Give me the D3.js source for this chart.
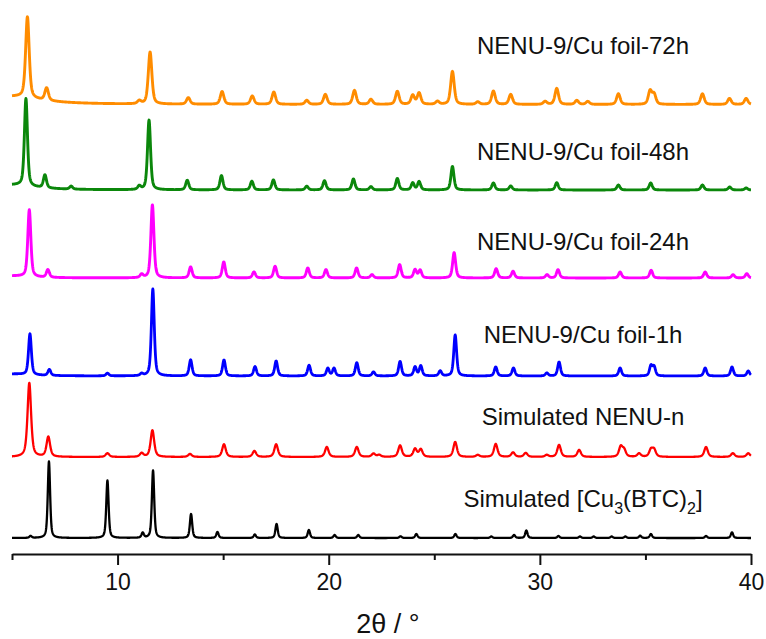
<!DOCTYPE html>
<html>
<head>
<meta charset="utf-8">
<script src="https://cdn.jsdelivr.net/npm/d3@7"></script>
<style>
  html, body { margin: 0; padding: 0; background: #ffffff; }
  svg { display: block; }
  text { font-family: "Liberation Sans", Arial, sans-serif; fill: #111; }
</style>
</head>
<body>
<svg id="chart" width="766" height="639"></svg>
<script>
// ---- data -------------------------------------------------------------
// 2θ range and axis ticks (degrees)
const twoThetaRange = [5, 40];
const majorTicks = [10, 20, 30, 40];
const minorTicks = [5, 15, 25, 35];

// sample names, stacked top to bottom
const sampleNames = [
  "NENU-9/Cu foil-72h",
  "NENU-9/Cu foil-48h",
  "NENU-9/Cu foil-24h",
  "NENU-9/Cu foil-1h",
  "Simulated NENU-n",
  "Simulated [Cu3(BTC)2]"
];

// vertical stacking offset of each pattern (a.u.)
const stackOffsets = [449.5, 364, 276, 178, 97, 16];

// reflection lists: [2θ (deg), intensity (a.u.), optional FWHM (deg)]
const peaks72h = [
  [5.0, 8, 3.2],
  [5.73, 81], [6.64, 12.5], [11.03, 3], [11.54, 52], [13.35, 6.5],
  [14.95, 12.7], [16.38, 8.3], [17.4, 12.3], [18.96, 4], [19.84, 10],
  [21.22, 14], [22.0, 5], [23.25, 13], [23.98, 9], [24.28, 11.3],
  [25.15, 3], [25.86, 33], [27.06, 2.5], [27.8, 13.3], [28.62, 10],
  [30.25, 3], [30.8, 16], [31.75, 4], [32.27, 3], [33.72, 10.7],
  [35.22, 13.3], [35.41, 10], [37.7, 10.7], [38.98, 6], [39.77, 6]
];
const peaks48h = [
  [5.0, 5, 2.5],
  [5.66, 87.5], [6.56, 13], [7.8, 3], [11.03, 3.5], [11.49, 69.7],
  [13.3, 9.6], [14.92, 14.3], [16.36, 8.7], [17.38, 10], [18.96, 3.7],
  [19.8, 9.3], [21.17, 11], [22.0, 3.3], [23.25, 11.5], [23.98, 7],
  [24.28, 8.3], [25.86, 23.5], [27.8, 7], [28.62, 4], [30.8, 7.3],
  [33.72, 5], [35.25, 7], [37.7, 5], [38.99, 3], [39.77, 2]
];
const peaks24h = [
  [5.0, 2, 2.0],
  [5.82, 67], [6.70, 7.7], [11.14, 3.3], [11.65, 73], [13.46, 11],
  [15.03, 16], [16.46, 6], [17.46, 11.7], [19.01, 10], [19.87, 8.3],
  [21.32, 10], [22.05, 3.3], [23.36, 13.3], [24.09, 8.3], [24.33, 7.7],
  [25.94, 25.3], [27.93, 9.3], [28.73, 6.7], [30.34, 3.3], [30.86, 8.3],
  [33.8, 6], [35.27, 7.7], [37.83, 6], [39.15, 3.3], [39.8, 4.3]
];
const peaks1h = [
  [5.0, 2, 2.0],
  [5.85, 41], [6.77, 6], [9.52, 2.7], [11.14, 2], [11.67, 87],
  [13.46, 16], [15.04, 16], [16.51, 9.4], [17.51, 15], [19.07, 10.7],
  [19.96, 7.7], [20.25, 7.7], [21.33, 13.3], [22.12, 4], [23.38, 14.5],
  [24.09, 9], [24.36, 10], [25.28, 5], [25.99, 41], [27.91, 9],
  [28.75, 8], [30.33, 3], [30.91, 14], [33.8, 8], [35.26, 10],
  [35.41, 9], [37.83, 8], [39.1, 9], [39.87, 5]
];
const peaksNENUn = [
  [5.82, 74], [6.72, 20], [9.52, 3.7], [11.14, 3.7], [11.65, 26.7],
  [13.43, 3], [15.04, 12.7], [16.48, 6], [17.51, 12.7], [19.91, 10],
  [21.33, 10], [22.12, 3.3], [22.39, 2], [23.38, 11.5], [24.09, 8],
  [24.36, 7.5], [25.99, 15], [27.06, 2], [27.91, 13], [28.73, 4.5],
  [29.33, 4], [30.33, 2], [30.91, 12], [31.86, 7], [33.83, 10],
  [33.99, 6.7], [34.7, 3.5], [35.26, 7], [35.41, 7], [37.87, 10],
  [39.14, 3.7], [39.87, 3.7]
];
const peaksHKUST = [
  [5.88, 2], [6.75, 76.5], [9.52, 57.5], [11.19, 5], [11.68, 67.5],
  [13.48, 24], [14.73, 6], [16.5, 3.5], [17.53, 14], [19.06, 8],
  [20.28, 3], [21.4, 3], [23.4, 1.7], [24.15, 4], [26.0, 4],
  [27.7, 1.5], [28.78, 3], [29.36, 7.5], [30.88, 2], [31.9, 1.5],
  [32.55, 1.5], [33.4, 1.5], [34.05, 1.5], [34.75, 2.3], [35.26, 4],
  [37.87, 2], [39.1, 5.7]
];

const peakLists = [peaks72h, peaks48h, peaks24h, peaks1h, peaksNENUn, peaksHKUST];

// ---- appearance ---------------------------------------------------------
const traceColors = ["#ff8c00", "#0b870b", "#ff00ff", "#0000ff", "#ff0000", "#000000"];
const traceWidths = [2.9, 2.9, 2.9, 2.8, 2.3, 2.3];
const peakFwhm = [0.2, 0.17, 0.17, 0.16, 0.2, 0.13];
const lorentzFraction = [0.5, 0.5, 0.5, 0.5, 0.6, 0.5];
const labelBaselines = [54, 160, 250, 343, 425, 507];

// ---- layout ------------------------------------------------------------
const svg = d3.select("#chart");
const axisY = 554;

const x = d3.scaleLinear().domain(twoThetaRange).range([12, 751]);
const y = d3.scaleLinear().domain([0, 540]).range([axisY, 14]);

// pseudo-Voigt line shape, unit height at its centre
function pseudoVoigt(dx, w, eta) {
  const t = dx / w;
  const lor = 1 / (1 + 4 * t * t);
  const gau = Math.exp(-4 * Math.LN2 * t * t);
  return eta * lor + (1 - eta) * gau;
}

function profile(list, offset, w, eta) {
  const pts = [];
  const step = 0.01;
  for (let t = twoThetaRange[0]; t <= twoThetaRange[1] + 1e-9; t += step) {
    let v = offset;
    for (const p of list) {
      const pw = p.length > 2 ? p[2] : w;
      v += p[1] * pseudoVoigt(t - p[0], pw, p.length > 2 ? 1 : eta);
    }
    pts.push([t, v]);
  }
  return pts;
}

const line = d3.line()
  .x(d => x(d[0]))
  .y(d => y(d[1]));

const traces = svg.append("g").attr("class", "traces");
peakLists.forEach((list, i) => {
  traces.append("path")
    .datum(profile(list, stackOffsets[i], peakFwhm[i], lorentzFraction[i]))
    .attr("d", line)
    .attr("fill", "none")
    .attr("stroke", traceColors[i])
    .attr("stroke-width", traceWidths[i])
    .attr("stroke-linejoin", "round");
});

// sample labels
const labelX = 583;
const labels = svg.append("g").attr("class", "labels")
  .attr("font-size", 24)
  .attr("text-anchor", "middle");
sampleNames.forEach((name, i) => {
  const t = labels.append("text")
    .attr("x", labelX)
    .attr("y", labelBaselines[i]);
  const m = name.match(/^(.*)\[Cu(\d)\(BTC\)(\d)\]$/);
  if (m) {
    t.append("tspan").text(m[1] + "[Cu");
    t.append("tspan").attr("font-size", 16).attr("dy", 7).text(m[2]);
    t.append("tspan").attr("dy", -7).text("(BTC)");
    t.append("tspan").attr("font-size", 16).attr("dy", 7).text(m[3]);
    t.append("tspan").attr("dy", -7).text("]");
  } else {
    t.text(name);
  }
});

// bottom axis: labelled major ticks and short minor ticks
const majorAxis = d3.axisBottom(x)
  .tickValues(majorTicks)
  .tickFormat(d3.format("d"))
  .tickSize(11)
  .tickSizeOuter(0)
  .tickPadding(9);
const gMajor = svg.append("g")
  .attr("transform", `translate(0,${axisY})`)
  .call(majorAxis);
gMajor.select(".domain").attr("stroke", "#111").attr("stroke-width", 2.2);
gMajor.selectAll(".tick line").attr("stroke", "#111").attr("stroke-width", 2);
gMajor.selectAll(".tick text")
  .attr("font-size", 23)
  .attr("font-family", "'Liberation Sans', Arial, sans-serif")
  .attr("fill", "#111");

const minorAxis = d3.axisBottom(x)
  .tickValues(minorTicks)
  .tickFormat("")
  .tickSize(6)
  .tickSizeOuter(0);
const gMinor = svg.append("g")
  .attr("transform", `translate(0,${axisY})`)
  .call(minorAxis);
gMinor.select(".domain").remove();
gMinor.selectAll(".tick line").attr("stroke", "#111").attr("stroke-width", 2);

// axis title
svg.append("text")
  .attr("x", 388)
  .attr("y", 633)
  .attr("text-anchor", "middle")
  .attr("font-size", 27)
  .text("2θ / °");
</script>
</body>
</html>
